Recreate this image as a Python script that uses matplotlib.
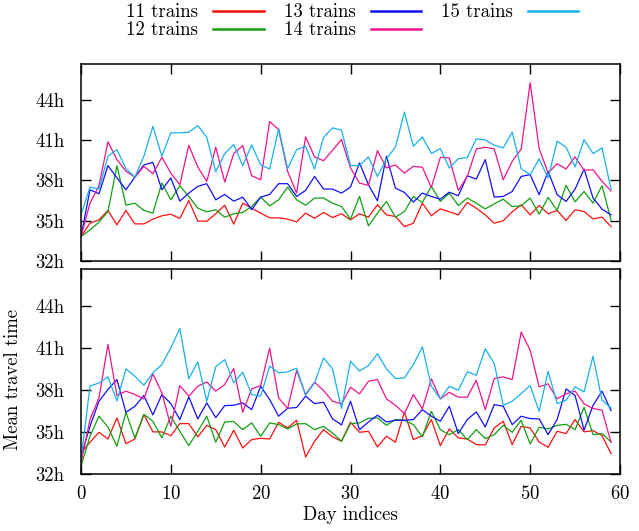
import numpy as np
import matplotlib
matplotlib.use("Agg")
import matplotlib.pyplot as plt

plt.rcParams['font.family'] = ['cmr10', 'DejaVu Serif']
plt.rcParams['axes.formatter.use_mathtext'] = True
plt.rcParams['font.size'] = 13.5

days = np.arange(60)

# upper panel
top_11 = [33.82, 34.81, 35.06, 35.76, 34.69, 35.76, 34.76, 34.76, 35.11, 35.36, 35.48, 35.16, 36.50, 34.96, 34.96,
          35.51, 36.15, 34.74, 36.30, 35.93, 35.56, 35.21, 35.21, 35.11, 34.91, 35.56, 35.18, 35.61, 35.23, 35.51,
          35.06, 35.51, 35.26, 36.18, 35.43, 35.31, 34.56, 34.81, 36.30, 35.36, 35.88, 35.66, 35.43, 36.35, 35.93,
          35.43, 34.81, 34.99, 35.66, 36.18, 35.43, 36.13, 35.51, 35.76, 35.01, 35.81, 35.68, 35.13, 35.26, 34.56]
top_12 = [33.82, 34.31, 34.89, 35.68, 39.09, 36.15, 36.30, 35.76, 35.56, 37.80, 36.55, 37.60, 36.80, 35.93, 35.66,
          35.81, 35.26, 35.51, 35.61, 36.05, 36.75, 36.10, 36.55, 37.50, 36.55, 36.15, 36.68, 36.68, 36.30, 36.05,
          35.11, 36.80, 34.61, 35.56, 36.43, 35.26, 35.68, 36.80, 36.35, 37.55, 36.43, 37.05, 36.13, 36.68, 36.30,
          35.88, 36.25, 36.60, 36.05, 36.10, 36.68, 35.48, 36.73, 35.76, 37.62, 36.40, 37.17, 36.30, 37.60, 35.06]
top_13 = [33.82, 37.30, 37.00, 39.09, 38.19, 37.30, 38.24, 39.14, 39.34, 37.30, 38.17, 36.45, 37.05, 37.55, 37.75,
          36.55, 36.95, 36.45, 36.75, 35.81, 36.75, 36.95, 37.75, 37.75, 36.80, 37.25, 38.29, 37.35, 37.35, 37.05,
          37.50, 39.29, 37.67, 36.48, 39.79, 37.42, 37.10, 36.38, 37.05, 36.80, 36.60, 37.12, 36.85, 38.34, 38.09,
          39.54, 36.75, 36.80, 37.17, 38.29, 38.42, 36.93, 38.67, 36.93, 36.43, 37.35, 38.84, 36.68, 35.86, 35.43]
top_14 = [33.82, 36.30, 37.60, 40.86, 39.54, 38.67, 38.24, 39.04, 38.49, 39.71, 38.54, 37.67, 40.61, 38.99, 37.92,
          40.46, 37.87, 39.99, 40.58, 38.34, 38.04, 42.37, 41.78, 38.67, 37.05, 41.23, 39.74, 39.46, 40.23, 41.03,
          38.92, 37.80, 37.62, 40.21, 38.92, 39.14, 38.54, 39.04, 38.97, 37.47, 39.71, 39.66, 37.25, 38.29, 40.33,
          40.46, 40.33, 38.04, 39.41, 40.33, 45.26, 40.36, 38.54, 39.24, 38.84, 39.74, 38.74, 38.79, 37.92, 37.22]
top_15 = [35.43, 37.50, 37.35, 39.79, 40.28, 38.87, 38.24, 39.79, 42.02, 39.79, 41.53, 41.53, 41.58, 42.07, 41.20,
          38.64, 39.99, 40.66, 39.09, 40.63, 39.14, 38.84, 41.83, 38.87, 40.28, 40.53, 38.84, 41.18, 41.90, 41.73,
          39.09, 39.11, 39.74, 38.29, 39.59, 40.48, 43.07, 40.53, 41.23, 39.99, 40.36, 38.92, 39.61, 39.69, 41.08,
          41.00, 40.61, 40.41, 41.58, 38.87, 38.42, 39.59, 38.17, 40.91, 40.46, 38.99, 41.03, 39.99, 40.41, 37.35]

# lower panel
bot_11 = [33.50, 34.27, 34.98, 34.50, 36.01, 34.17, 34.50, 36.25, 35.01, 35.01, 34.74, 35.60, 35.60, 34.65, 35.48,
          35.17, 33.93, 35.13, 33.86, 34.46, 34.55, 34.50, 35.70, 35.29, 35.84, 33.22, 34.34, 35.17, 34.65, 34.34,
          35.70, 34.98, 35.05, 33.93, 34.70, 34.27, 36.41, 34.46, 34.74, 35.89, 34.03, 35.22, 34.58, 34.50, 34.10,
          34.08, 35.29, 35.77, 34.10, 35.41, 35.29, 34.29, 33.91, 35.05, 34.89, 35.89, 35.01, 35.10, 34.74, 33.46]
bot_12 = [32.55, 34.70, 36.13, 35.36, 33.98, 36.41, 34.58, 36.25, 35.77, 34.58, 36.13, 35.05, 34.03, 35.05, 36.13,
          34.27, 35.72, 35.75, 35.17, 35.65, 34.70, 35.65, 35.53, 35.22, 35.58, 35.60, 35.17, 35.41, 34.93, 34.34,
          35.60, 35.65, 35.98, 36.01, 35.48, 35.89, 35.84, 35.53, 34.65, 36.48, 35.17, 34.81, 35.17, 34.46, 35.17,
          34.53, 34.81, 35.48, 34.98, 35.84, 34.15, 35.34, 35.22, 35.48, 35.55, 35.17, 36.77, 34.81, 34.89, 34.29]
bot_13 = [33.26, 35.41, 37.20, 38.04, 38.75, 36.41, 36.84, 37.61, 36.22, 37.68, 37.03, 35.89, 37.51, 35.94, 37.08,
          36.03, 36.89, 36.91, 37.08, 36.60, 38.27, 37.32, 36.13, 36.70, 36.75, 37.56, 37.03, 37.13, 35.94, 35.51,
          37.20, 35.17, 35.72, 36.20, 35.72, 35.84, 35.84, 35.89, 36.60, 36.13, 35.77, 36.84, 34.89, 35.89, 36.44,
          35.36, 36.96, 36.84, 35.53, 36.13, 35.96, 35.94, 34.81, 35.89, 38.08, 37.61, 35.13, 36.91, 37.92, 36.53]
bot_14 = [32.79, 35.89, 37.44, 41.26, 37.61, 37.92, 37.68, 37.37, 39.16, 37.80, 35.41, 38.32, 37.56, 38.27, 38.58,
          37.92, 38.39, 39.54, 36.41, 38.08, 38.32, 40.99, 37.44, 36.68, 39.40, 37.68, 38.56, 37.96, 37.20, 37.01,
          38.20, 37.73, 38.63, 38.75, 37.37, 36.91, 36.32, 37.68, 36.65, 38.80, 37.37, 37.84, 37.49, 37.49, 38.70,
          36.60, 38.82, 38.94, 38.75, 42.14, 40.85, 38.23, 38.44, 37.37, 37.73, 37.92, 37.01, 36.68, 36.56, 34.27]
bot_15 = [33.03, 38.27, 38.51, 38.94, 37.22, 39.51, 38.99, 38.35, 39.23, 39.82, 41.02, 42.40, 38.80, 40.02, 37.20,
          39.66, 40.18, 38.51, 39.28, 37.68, 37.56, 39.71, 39.23, 39.30, 39.56, 37.63, 38.51, 40.30, 39.51, 36.68,
          40.06, 39.35, 39.75, 40.59, 39.51, 38.82, 38.87, 39.82, 41.09, 38.27, 37.37, 38.27, 37.99, 39.30, 39.06,
          40.95, 39.90, 36.91, 37.20, 37.75, 38.32, 36.48, 39.35, 37.03, 37.27, 38.23, 37.87, 40.42, 37.27, 36.72]

labels = ['11 trains', '12 trains', '13 trains', '14 trains', '15 trains']
colors = ['#ff1010', '#10a010', '#1010ff', '#f0148c', '#18b0ec']
yticks = [32, 35, 38, 41, 44]
xticks = [0, 10, 20, 30, 40, 50, 60]

fig = plt.figure(figsize=(6.39, 5.31), dpi=100)
ax1 = fig.add_axes([81/639, 1 - 261/531, 539/639, 197/531])
ax2 = fig.add_axes([81/639, 1 - 474/531, 539/639, 205/531])

for ax, series in [(ax1, [top_11, top_12, top_13, top_14, top_15]),
                   (ax2, [bot_11, bot_12, bot_13, bot_14, bot_15])]:
    for vals, lab, c in zip(series, labels, colors):
        ax.plot(days, vals, color=c, lw=0.9, label=lab)
    ax.set_xlim(0, 60)
    ax.set_ylim(32, 46.65)
    ax.set_xticks(xticks)
    ax.set_yticks(yticks)
    ax.set_yticklabels([f'{v}h' for v in yticks])
    ax.tick_params(direction='in', top=True, right=True, length=7, width=1, pad=12)
    ax.tick_params(axis='x', pad=8)
    for s in ax.spines.values():
        s.set_linewidth(1.1)

ax1.set_xticklabels([])
ax2.set_xlabel('Day indices')
ax2.xaxis.set_label_coords(0.5, -0.155)
ax2.set_ylabel('Mean travel time')
ax2.yaxis.set_label_coords(-0.11, 0.46)

handles, labs = ax1.get_legend_handles_labels()
leg = fig.legend(handles, labs, loc='upper left', bbox_to_anchor=(117/639, 1 + 6/531),
                 ncol=3, frameon=False, markerfirst=False, handlelength=2.7,
                 handletextpad=0.8, columnspacing=1.05, labelspacing=0.0, borderpad=0.0)
for line in leg.get_lines():
    line.set_linewidth(1.8)

fig.savefig('out.png', dpi=100)
